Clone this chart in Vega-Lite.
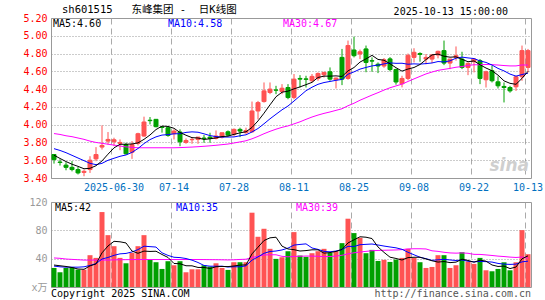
{
"$schema": "https://vega.github.io/schema/vega-lite/v6.json",
"padding": {"left": 22, "top": 4, "right": 15, "bottom": 2},
"bounds": "flush",
"spacing": 24,
"background": "white",
"config": {
 "view": {"stroke": "#999999", "strokeWidth": 1},
 "font": "DejaVu Sans Mono",
 "axis": {"labelFont": "DejaVu Sans Mono, Noto Sans CJK SC", "labelFontSize": 10, "ticks": false, "domain": false, "title": null, "gridColor": "#aaaaaa", "gridOpacity": 1, "labelOverlap": false}
},
"datasets": {"k": [
{"d":"2025-06-16","o":3.664,"h":3.67,"l":3.562,"c":3.607,"ma5":3.656,"ma10":3.73,"ma30":3.90,"v":26.9,"vma5":31,"vma10":29.5,"vma30":41},
{"d":"2025-06-17","o":3.58,"h":3.61,"l":3.54,"c":3.575,"ma5":3.62,"ma10":3.71,"ma30":3.89,"v":20.8,"vma5":30,"vma10":28.5,"vma30":40.5},
{"d":"2025-06-18","o":3.545,"h":3.577,"l":3.487,"c":3.52,"ma5":3.585,"ma10":3.685,"ma30":3.875,"v":26.9,"vma5":29,"vma10":28,"vma30":39.5},
{"d":"2025-06-19","o":3.52,"h":3.59,"l":3.475,"c":3.495,"ma5":3.555,"ma10":3.655,"ma30":3.865,"v":27.9,"vma5":27.5,"vma10":28,"vma30":39},
{"d":"2025-06-20","o":3.495,"h":3.525,"l":3.44,"c":3.457,"ma5":3.531,"ma10":3.625,"ma30":3.85,"v":24.6,"vma5":25.4,"vma10":28,"vma30":38.5},
{"d":"2025-06-23","o":3.463,"h":3.495,"l":3.42,"c":3.475,"ma5":3.504,"ma10":3.595,"ma30":3.835,"v":24.6,"vma5":25.0,"vma10":28.5,"vma30":38},
{"d":"2025-06-24","o":3.495,"h":3.645,"l":3.457,"c":3.60,"ma5":3.509,"ma10":3.565,"ma30":3.815,"v":44.9,"vma5":29.8,"vma10":30.5,"vma30":38},
{"d":"2025-06-25","o":3.615,"h":3.747,"l":3.589,"c":3.664,"ma5":3.538,"ma10":3.55,"ma30":3.80,"v":41.1,"vma5":32.6,"vma10":33,"vma30":38},
{"d":"2025-06-26","o":3.748,"h":3.992,"l":3.72,"c":3.766,"ma5":3.592,"ma10":3.565,"ma30":3.79,"v":105.8,"vma5":48.2,"vma10":39.5,"vma30":38},
{"d":"2025-06-27","o":3.815,"h":3.917,"l":3.777,"c":3.834,"ma5":3.668,"ma10":3.599,"ma30":3.78,"v":73.2,"vma5":57.9,"vma10":41.7,"vma30":38},
{"d":"2025-06-30","o":3.808,"h":3.853,"l":3.758,"c":3.83,"ma5":3.739,"ma10":3.622,"ma30":3.77,"v":57.6,"vma5":64.5,"vma10":44.7,"vma30":38.3},
{"d":"2025-07-01","o":3.789,"h":3.834,"l":3.713,"c":3.80,"ma5":3.779,"ma10":3.644,"ma30":3.76,"v":41.1,"vma5":63.8,"vma10":46.8,"vma30":38.5},
{"d":"2025-07-02","o":3.777,"h":3.796,"l":3.664,"c":3.672,"ma5":3.78,"ma10":3.659,"ma30":3.75,"v":33.5,"vma5":62.2,"vma10":47.4,"vma30":38.6},
{"d":"2025-07-03","o":3.69,"h":3.815,"l":3.615,"c":3.777,"ma5":3.783,"ma10":3.688,"ma30":3.745,"v":48.2,"vma5":50.7,"vma10":49.5,"vma30":38.7},
{"d":"2025-07-04","o":3.789,"h":3.909,"l":3.766,"c":3.898,"ma5":3.795,"ma10":3.732,"ma30":3.74,"v":57.6,"vma5":47.6,"vma10":52.8,"vma30":38.8},
{"d":"2025-07-07","o":3.872,"h":4.09,"l":3.864,"c":4.03,"ma5":3.835,"ma10":3.787,"ma30":3.74,"v":73.2,"vma5":50.7,"vma10":57.6,"vma30":38.8},
{"d":"2025-07-08","o":4.05,"h":4.086,"l":4.003,"c":4.045,"ma5":3.884,"ma10":3.832,"ma30":3.74,"v":38.3,"vma5":50.2,"vma10":57.0,"vma30":38.8},
{"d":"2025-07-09","o":4.06,"h":4.06,"l":3.97,"c":3.977,"ma5":3.945,"ma10":3.863,"ma30":3.74,"v":35.0,"vma5":50.5,"vma10":56.4,"vma30":38.8},
{"d":"2025-07-10","o":3.975,"h":3.985,"l":3.91,"c":3.968,"ma5":3.984,"ma10":3.883,"ma30":3.74,"v":25.5,"vma5":45.9,"vma10":48.3,"vma30":38.8},
{"d":"2025-07-11","o":3.966,"h":3.985,"l":3.864,"c":3.879,"ma5":3.98,"ma10":3.888,"ma30":3.74,"v":36.4,"vma5":41.7,"vma10":44.6,"vma30":38.8},
{"d":"2025-07-14","o":3.898,"h":3.947,"l":3.834,"c":3.928,"ma5":3.959,"ma10":3.897,"ma30":3.74,"v":30.7,"vma5":33.2,"vma10":42.0,"vma30":38.8},
{"d":"2025-07-15","o":3.917,"h":3.947,"l":3.758,"c":3.807,"ma5":3.912,"ma10":3.898,"ma30":3.742,"v":36.4,"vma5":32.8,"vma10":41.5,"vma30":38.8},
{"d":"2025-07-16","o":3.80,"h":3.845,"l":3.785,"c":3.822,"ma5":3.881,"ma10":3.913,"ma30":3.745,"v":20.8,"vma5":30.0,"vma10":40.2,"vma30":38.8},
{"d":"2025-07-17","o":3.83,"h":3.86,"l":3.785,"c":3.834,"ma5":3.854,"ma10":3.919,"ma30":3.748,"v":25.0,"vma5":29.9,"vma10":37.9,"vma30":38.8},
{"d":"2025-07-18","o":3.834,"h":3.86,"l":3.785,"c":3.86,"ma5":3.85,"ma10":3.915,"ma30":3.752,"v":25.0,"vma5":27.6,"vma10":34.6,"vma30":38.8},
{"d":"2025-07-21","o":3.849,"h":3.883,"l":3.796,"c":3.845,"ma5":3.834,"ma10":3.897,"ma30":3.757,"v":30.7,"vma5":27.6,"vma10":30.4,"vma30":38.7},
{"d":"2025-07-22","o":3.86,"h":3.909,"l":3.796,"c":3.845,"ma5":3.841,"ma10":3.877,"ma30":3.762,"v":28.8,"vma5":26.1,"vma10":29.4,"vma30":38.6},
{"d":"2025-07-23","o":3.845,"h":3.935,"l":3.834,"c":3.872,"ma5":3.851,"ma10":3.866,"ma30":3.768,"v":33.5,"vma5":28.6,"vma10":29.3,"vma30":38.5},
{"d":"2025-07-24","o":3.86,"h":3.909,"l":3.845,"c":3.909,"ma5":3.866,"ma10":3.86,"ma30":3.775,"v":26.9,"vma5":29.0,"vma10":29.4,"vma30":38.4},
{"d":"2025-07-25","o":3.92,"h":3.935,"l":3.87,"c":3.883,"ma5":3.871,"ma10":3.861,"ma30":3.782,"v":24.1,"vma5":28.8,"vma10":28.2,"vma30":38.2},
{"d":"2025-07-28","o":3.89,"h":3.958,"l":3.87,"c":3.947,"ma5":3.891,"ma10":3.862,"ma30":3.794,"v":35.0,"vma5":29.7,"vma10":28.6,"vma30":38.4},
{"d":"2025-07-29","o":3.947,"h":3.966,"l":3.86,"c":3.928,"ma5":3.908,"ma10":3.875,"ma30":3.806,"v":35.0,"vma5":30.9,"vma10":28.5,"vma30":38.9},
{"d":"2025-07-30","o":3.91,"h":3.966,"l":3.898,"c":3.935,"ma5":3.92,"ma10":3.886,"ma30":3.819,"v":35.0,"vma5":31.2,"vma10":29.9,"vma30":39.2},
{"d":"2025-07-31","o":3.92,"h":4.26,"l":3.909,"c":4.154,"ma5":3.969,"ma10":3.918,"ma30":3.841,"v":104.9,"vma5":46.8,"vma10":37.9,"vma30":41.7},
{"d":"2025-08-01","o":4.154,"h":4.267,"l":4.06,"c":4.248,"ma5":4.042,"ma10":3.957,"ma30":3.868,"v":70.9,"vma5":56.2,"vma10":42.5,"vma30":43.3},
{"d":"2025-08-04","o":4.26,"h":4.475,"l":4.248,"c":4.38,"ma5":4.129,"ma10":4.01,"ma30":3.898,"v":82.2,"vma5":65.6,"vma10":47.6,"vma30":45.2},
{"d":"2025-08-05","o":4.362,"h":4.475,"l":4.343,"c":4.40,"ma5":4.223,"ma10":4.066,"ma30":3.925,"v":53.9,"vma5":69.4,"vma10":50.1,"vma30":45.5},
{"d":"2025-08-06","o":4.39,"h":4.437,"l":4.343,"c":4.388,"ma5":4.314,"ma10":4.117,"ma30":3.949,"v":39.7,"vma5":70.3,"vma10":50.8,"vma30":45.5},
{"d":"2025-08-07","o":4.373,"h":4.456,"l":4.343,"c":4.41,"ma5":4.365,"ma10":4.167,"ma30":3.97,"v":42.0,"vma5":57.7,"vma10":52.3,"vma30":43.3},
{"d":"2025-08-08","o":4.418,"h":4.456,"l":4.286,"c":4.305,"ma5":4.377,"ma10":4.21,"ma30":3.986,"v":50.5,"vma5":53.7,"vma10":54.9,"vma30":42.6},
{"d":"2025-08-11","o":4.305,"h":4.57,"l":4.286,"c":4.512,"ma5":4.403,"ma10":4.266,"ma30":4.009,"v":77.5,"vma5":52.7,"vma10":59.2,"vma30":43.2},
{"d":"2025-08-12","o":4.52,"h":4.557,"l":4.418,"c":4.512,"ma5":4.425,"ma10":4.324,"ma30":4.032,"v":44.4,"vma5":50.8,"vma10":60.1,"vma30":43.4},
{"d":"2025-08-13","o":4.515,"h":4.55,"l":4.418,"c":4.51,"ma5":4.45,"ma10":4.382,"ma30":4.06,"v":42.5,"vma5":51.4,"vma10":60.9,"vma30":43.7},
{"d":"2025-08-14","o":4.494,"h":4.57,"l":4.475,"c":4.543,"ma5":4.476,"ma10":4.421,"ma30":4.086,"v":47.7,"vma5":52.5,"vma10":55.1,"vma30":43.6},
{"d":"2025-08-15","o":4.52,"h":4.588,"l":4.494,"c":4.576,"ma5":4.531,"ma10":4.454,"ma30":4.108,"v":50.5,"vma5":52.5,"vma10":53.1,"vma30":43.4},
{"d":"2025-08-18","o":4.561,"h":4.595,"l":4.53,"c":4.588,"ma5":4.546,"ma10":4.474,"ma30":4.127,"v":53.9,"vma5":47.8,"vma10":50.3,"vma30":42.8},
{"d":"2025-08-19","o":4.595,"h":4.644,"l":4.494,"c":4.512,"ma5":4.546,"ma10":4.486,"ma30":4.143,"v":48.2,"vma5":48.6,"vma10":49.7,"vma30":43.1},
{"d":"2025-08-20","o":4.505,"h":4.531,"l":4.407,"c":4.524,"ma5":4.549,"ma10":4.499,"ma30":4.161,"v":50.5,"vma5":50.2,"vma10":50.8,"vma30":43.6},
{"d":"2025-08-21","o":4.757,"h":4.852,"l":4.445,"c":4.512,"ma5":4.542,"ma10":4.509,"ma30":4.179,"v":61.9,"vma5":53.0,"vma10":52.8,"vma30":44.8},
{"d":"2025-08-22","o":4.52,"h":4.946,"l":4.505,"c":4.89,"ma5":4.605,"ma10":4.568,"ma30":4.213,"v":96.4,"vma5":62.2,"vma10":57.4,"vma30":46.8},
{"d":"2025-08-25","o":4.84,"h":4.99,"l":4.757,"c":4.776,"ma5":4.643,"ma10":4.594,"ma30":4.241,"v":76.1,"vma5":66.6,"vma10":57.2,"vma30":48.3},
{"d":"2025-08-26","o":4.795,"h":4.845,"l":4.738,"c":4.82,"ma5":4.704,"ma10":4.625,"ma30":4.275,"v":69.4,"vma5":70.9,"vma10":59.7,"vma30":49.4},
{"d":"2025-08-27","o":4.852,"h":4.89,"l":4.59,"c":4.70,"ma5":4.74,"ma10":4.644,"ma30":4.304,"v":47.7,"vma5":70.3,"vma10":60.2,"vma30":50.3},
{"d":"2025-08-28","o":4.72,"h":4.757,"l":4.595,"c":4.715,"ma5":4.78,"ma10":4.661,"ma30":4.333,"v":52.4,"vma5":68.4,"vma10":60.7,"vma30":51.2},
{"d":"2025-08-29","o":4.68,"h":4.70,"l":4.58,"c":4.66,"ma5":4.734,"ma10":4.67,"ma30":4.36,"v":36.8,"vma5":56.5,"vma10":59.3,"vma30":51.6},
{"d":"2025-09-01","o":4.66,"h":4.75,"l":4.64,"c":4.73,"ma5":4.725,"ma10":4.684,"ma30":4.389,"v":38.3,"vma5":48.9,"vma10":57.8,"vma30":51.9},
{"d":"2025-09-02","o":4.74,"h":4.76,"l":4.60,"c":4.62,"ma5":4.685,"ma10":4.695,"ma30":4.415,"v":35.4,"vma5":42.1,"vma10":56.5,"vma30":52.1},
{"d":"2025-09-03","o":4.62,"h":4.63,"l":4.45,"c":4.48,"ma5":4.641,"ma10":4.69,"ma30":4.436,"v":38.7,"vma5":40.3,"vma10":55.3,"vma30":52.3},
{"d":"2025-09-04","o":4.46,"h":4.55,"l":4.42,"c":4.52,"ma5":4.602,"ma10":4.691,"ma30":4.456,"v":41.1,"vma5":38.1,"vma10":53.2,"vma30":52.8},
{"d":"2025-09-05","o":4.52,"h":4.80,"l":4.50,"c":4.78,"ma5":4.626,"ma10":4.68,"ma30":4.486,"v":53.9,"vma5":41.5,"vma10":49.0,"vma30":53.7},
{"d":"2025-09-08","o":4.757,"h":4.86,"l":4.70,"c":4.814,"ma5":4.643,"ma10":4.684,"ma30":4.515,"v":41.1,"vma5":42.0,"vma10":45.5,"vma30":54.0},
{"d":"2025-09-09","o":4.80,"h":4.814,"l":4.708,"c":4.79,"ma5":4.677,"ma10":4.681,"ma30":4.543,"v":35.0,"vma5":42.0,"vma10":42.0,"vma30":54.0},
{"d":"2025-09-10","o":4.738,"h":4.795,"l":4.68,"c":4.757,"ma5":4.732,"ma10":4.687,"ma30":4.571,"v":26.9,"vma5":39.6,"vma10":40.0,"vma30":53.7},
{"d":"2025-09-11","o":4.738,"h":4.795,"l":4.693,"c":4.784,"ma5":4.785,"ma10":4.694,"ma30":4.592,"v":28.3,"vma5":37.0,"vma10":37.6,"vma30":51.1},
{"d":"2025-09-12","o":4.784,"h":4.833,"l":4.746,"c":4.825,"ma5":4.794,"ma10":4.71,"ma30":4.611,"v":44.9,"vma5":35.2,"vma10":38.4,"vma30":50.3},
{"d":"2025-09-15","o":4.833,"h":4.946,"l":4.67,"c":4.693,"ma5":4.77,"ma10":4.706,"ma30":4.622,"v":44.9,"vma5":36.0,"vma10":39.0,"vma30":49.0},
{"d":"2025-09-16","o":4.693,"h":4.74,"l":4.625,"c":4.738,"ma5":4.759,"ma10":4.718,"ma30":4.633,"v":26.9,"vma5":34.4,"vma10":38.2,"vma30":48.1},
{"d":"2025-09-17","o":4.757,"h":4.88,"l":4.72,"c":4.776,"ma5":4.763,"ma10":4.748,"ma30":4.646,"v":30.7,"vma5":35.1,"vma10":37.4,"vma30":47.8},
{"d":"2025-09-18","o":4.738,"h":4.82,"l":4.625,"c":4.644,"ma5":4.735,"ma10":4.76,"ma30":4.654,"v":49.1,"vma5":39.3,"vma10":38.2,"vma30":48.1},
{"d":"2025-09-19","o":4.644,"h":4.70,"l":4.557,"c":4.69,"ma5":4.708,"ma10":4.751,"ma30":4.666,"v":35.9,"vma5":37.5,"vma10":36.4,"vma30":47.6},
{"d":"2025-09-22","o":4.708,"h":4.746,"l":4.588,"c":4.738,"ma5":4.717,"ma10":4.744,"ma30":4.674,"v":32.6,"vma5":35.0,"vma10":35.5,"vma30":46.1},
{"d":"2025-09-23","o":4.72,"h":4.738,"l":4.456,"c":4.52,"ma5":4.674,"ma10":4.717,"ma30":4.674,"v":41.1,"vma5":37.9,"vma10":36.1,"vma30":46.0},
{"d":"2025-09-24","o":4.505,"h":4.607,"l":4.418,"c":4.595,"ma5":4.637,"ma10":4.70,"ma30":4.677,"v":23.6,"vma5":36.5,"vma10":35.8,"vma30":45.3},
{"d":"2025-09-25","o":4.607,"h":4.663,"l":4.475,"c":4.494,"ma5":4.607,"ma10":4.671,"ma30":4.675,"v":22.2,"vma5":31.1,"vma10":35.2,"vma30":44.5},
{"d":"2025-09-26","o":4.482,"h":4.543,"l":4.407,"c":4.437,"ma5":4.557,"ma10":4.633,"ma30":4.671,"v":25.5,"vma5":29.0,"vma10":33.3,"vma30":43.6},
{"d":"2025-09-29","o":4.43,"h":4.475,"l":4.25,"c":4.418,"ma5":4.493,"ma10":4.605,"ma30":4.665,"v":34.9,"vma5":29.5,"vma10":32.3,"vma30":43.0},
{"d":"2025-09-30","o":4.418,"h":4.437,"l":4.36,"c":4.38,"ma5":4.465,"ma10":4.569,"ma30":4.661,"v":23.6,"vma5":26.0,"vma10":31.9,"vma30":42.2},
{"d":"2025-10-09","o":4.426,"h":4.55,"l":4.38,"c":4.539,"ma5":4.454,"ma10":4.546,"ma30":4.661,"v":34.9,"vma5":28.2,"vma10":32.3,"vma30":41.7},
{"d":"2025-10-10","o":4.539,"h":4.89,"l":4.494,"c":4.833,"ma5":4.521,"ma10":4.564,"ma30":4.672,"v":80.3,"vma5":39.8,"vma10":35.5,"vma30":42.3},
{"d":"2025-10-13","o":4.644,"h":4.852,"l":4.588,"c":4.833,"ma5":4.60,"ma10":4.579,"ma30":4.67,"v":46.3,"vma5":44.0,"vma10":36.5,"vma30":40.6}
]},
"vconcat": [
{
 "width": 480, "height": 160,
 "title": {"text": "sh601515\u00a0\u00a0\u00a0东峰集团\u00a0-\u00a0\u00a0日K线图", "anchor": "start", "frame": "group", "font": "DejaVu Sans Mono, Noto Sans CJK SC", "fontSize": 10.5, "fontWeight": "normal", "color": "#000000", "offset": -9, "dx": 11},
 "data": {"name": "k"},
 "encoding": {
  "x": {"field": "d", "type": "ordinal", "scale": {"paddingInner": 0, "paddingOuter": 0},
   "axis": {"values": ["2025-06-30","2025-07-14","2025-07-28","2025-08-11","2025-08-25","2025-09-08","2025-09-22","2025-10-13"],
    "labelExpr": "datum.value == '2025-06-30' ? datum.value : slice(datum.value, 5)",
    "labelColor": "#0070c0", "labelAngle": 0, "labelPadding": 4, "bandPosition": 0, "labelOverlap": false,
    "grid": true, "gridDash": [6, 4], "gridColor": "#aaaaaa"}}
 },
 "layer": [
  {"mark": {"type": "rule", "strokeWidth": 1},
   "encoding": {
    "y": {"field": "l", "type": "quantitative", "scale": {"domain": [3.4, 5.2], "nice": false, "zero": false},
     "axis": {"values": [3.4,3.6,3.8,4.0,4.2,4.4,4.6,4.8,5.0,5.2], "tickCount": 10, "format": ".2f", "labelColor": "#ff0000", "labelPadding": 4, "labelOverlap": false, "labelFlush": false, "labelBound": false, "grid": true, "gridDash": [1, 2], "gridColor": "#999999"}},
    "y2": {"field": "h"},
    "color": {"condition": {"test": "datum.c >= datum.o", "value": "#ff5353"}, "value": "#00a000"}}},
  {"mark": {"type": "bar", "size": 4, "strokeWidth": 1},
   "encoding": {
    "y": {"field": "o", "type": "quantitative"},
    "y2": {"field": "c"},
    "color": {"condition": {"test": "datum.c >= datum.o", "value": "#ff5353"}, "value": "#00a000"},
    "stroke": {"condition": {"test": "datum.c >= datum.o", "value": "#ff5353"}, "value": "#00a000"}}},
  {"mark": {"type": "line", "color": "#ff00ff", "strokeWidth": 1}, "encoding": {"y": {"field": "ma30", "type": "quantitative"}}},
  {"mark": {"type": "line", "color": "#0000ff", "strokeWidth": 1}, "encoding": {"y": {"field": "ma10", "type": "quantitative"}}},
  {"mark": {"type": "line", "color": "#000000", "strokeWidth": 1}, "encoding": {"y": {"field": "ma5", "type": "quantitative"}}},
  {"data": {"values": [{}]}, "mark": {"type": "text", "align": "left", "baseline": "middle", "fontSize": 10, "color": "#000000", "dx": 2},
   "encoding": {"x": {"datum": "2025-06-16", "type": "ordinal", "bandPosition": 0}, "y": {"datum": 5.13, "type": "quantitative"}, "text": {"value": "MA5:4.60"}}},
  {"data": {"values": [{}]}, "mark": {"type": "text", "align": "left", "baseline": "middle", "fontSize": 10, "color": "#0000ff", "dx": -3},
   "encoding": {"x": {"datum": "2025-07-14", "type": "ordinal", "bandPosition": 0}, "y": {"datum": 5.13, "type": "quantitative"}, "text": {"value": "MA10:4.58"}}},
  {"data": {"values": [{}]}, "mark": {"type": "text", "align": "left", "baseline": "middle", "fontSize": 10, "color": "#ff00ff", "dx": -8},
   "encoding": {"x": {"datum": "2025-08-11", "type": "ordinal", "bandPosition": 0}, "y": {"datum": 5.13, "type": "quantitative"}, "text": {"value": "MA30:4.67"}}},
  {"data": {"values": [{}]}, "mark": {"type": "text", "align": "right", "baseline": "middle", "fontSize": 10, "color": "#000000", "dx": -17},
   "encoding": {"x": {"datum": "2025-10-13", "type": "ordinal", "bandPosition": 0}, "y": {"datum": 5.27, "type": "quantitative"}, "text": {"value": "2025-10-13 15:00:00"}}},
  {"data": {"values": [{}]}, "mark": {"type": "text", "align": "right", "baseline": "middle", "fontSize": 17, "font": "DejaVu Sans", "fontStyle": "italic", "fontWeight": "bold", "color": "#cfcfcf", "dx": -2},
   "encoding": {"x": {"datum": "2025-10-13", "type": "ordinal", "bandPosition": 1}, "y": {"datum": 3.53, "type": "quantitative"}, "text": {"value": "sina"}}}
 ]
},
{
 "width": 480, "height": 85,
 "data": {"name": "k"},
 "encoding": {
  "x": {"field": "d", "type": "ordinal", "scale": {"paddingInner": 0, "paddingOuter": 0},
   "axis": {"values": ["2025-06-30","2025-07-14","2025-07-28","2025-08-11","2025-08-25","2025-09-08","2025-09-22","2025-10-13"],
    "labels": false, "bandPosition": 0, "grid": true, "gridDash": [6, 4], "gridColor": "#aaaaaa"}}
 },
 "layer": [
  {"mark": {"type": "bar", "size": 5},
   "encoding": {
    "y": {"field": "v", "type": "quantitative", "scale": {"domain": [0, 120], "nice": false},
     "axis": {"values": [0, 40, 80, 120], "tickCount": 4, "labelExpr": "datum.value == 0 ? 'x万' : datum.label", "labelColor": "#999999", "labelPadding": 4, "labelOverlap": false, "labelFlush": false, "labelBound": false, "grid": true, "gridDash": [1, 2], "gridColor": "#999999"}},
    "color": {"condition": {"test": "datum.c >= datum.o", "value": "#ff5353"}, "value": "#00a000"}}},
  {"mark": {"type": "line", "color": "#ff00ff", "strokeWidth": 1}, "encoding": {"y": {"field": "vma30", "type": "quantitative"}}},
  {"mark": {"type": "line", "color": "#0000ff", "strokeWidth": 1}, "encoding": {"y": {"field": "vma10", "type": "quantitative"}}},
  {"mark": {"type": "line", "color": "#000000", "strokeWidth": 1}, "encoding": {"y": {"field": "vma5", "type": "quantitative"}}},
  {"data": {"values": [{}]}, "mark": {"type": "text", "align": "left", "baseline": "middle", "fontSize": 10, "color": "#000000", "dx": 4},
   "encoding": {"x": {"datum": "2025-06-16", "type": "ordinal", "bandPosition": 0}, "y": {"datum": 112, "type": "quantitative"}, "text": {"value": "MA5:42"}}},
  {"data": {"values": [{}]}, "mark": {"type": "text", "align": "left", "baseline": "middle", "fontSize": 10, "color": "#0000ff", "dx": 5},
   "encoding": {"x": {"datum": "2025-07-14", "type": "ordinal", "bandPosition": 0}, "y": {"datum": 112, "type": "quantitative"}, "text": {"value": "MA10:35"}}},
  {"data": {"values": [{}]}, "mark": {"type": "text", "align": "left", "baseline": "middle", "fontSize": 10, "color": "#ff00ff", "dx": 5},
   "encoding": {"x": {"datum": "2025-08-11", "type": "ordinal", "bandPosition": 0}, "y": {"datum": 112, "type": "quantitative"}, "text": {"value": "MA30:39"}}},
  {"data": {"values": [{}]}, "mark": {"type": "text", "align": "left", "baseline": "middle", "fontSize": 10, "color": "#000000"},
   "encoding": {"x": {"datum": "2025-06-16", "type": "ordinal", "bandPosition": 0}, "y": {"datum": -10, "type": "quantitative"}, "text": {"value": "Copyright 2025 SINA.COM"}}},
  {"data": {"values": [{}]}, "mark": {"type": "text", "align": "right", "baseline": "middle", "fontSize": 10, "color": "#555555"},
   "encoding": {"x": {"datum": "2025-10-13", "type": "ordinal", "bandPosition": 1}, "y": {"datum": -10, "type": "quantitative"}, "text": {"value": "http://finance.sina.com.cn"}}}
 ]
}
]
}
